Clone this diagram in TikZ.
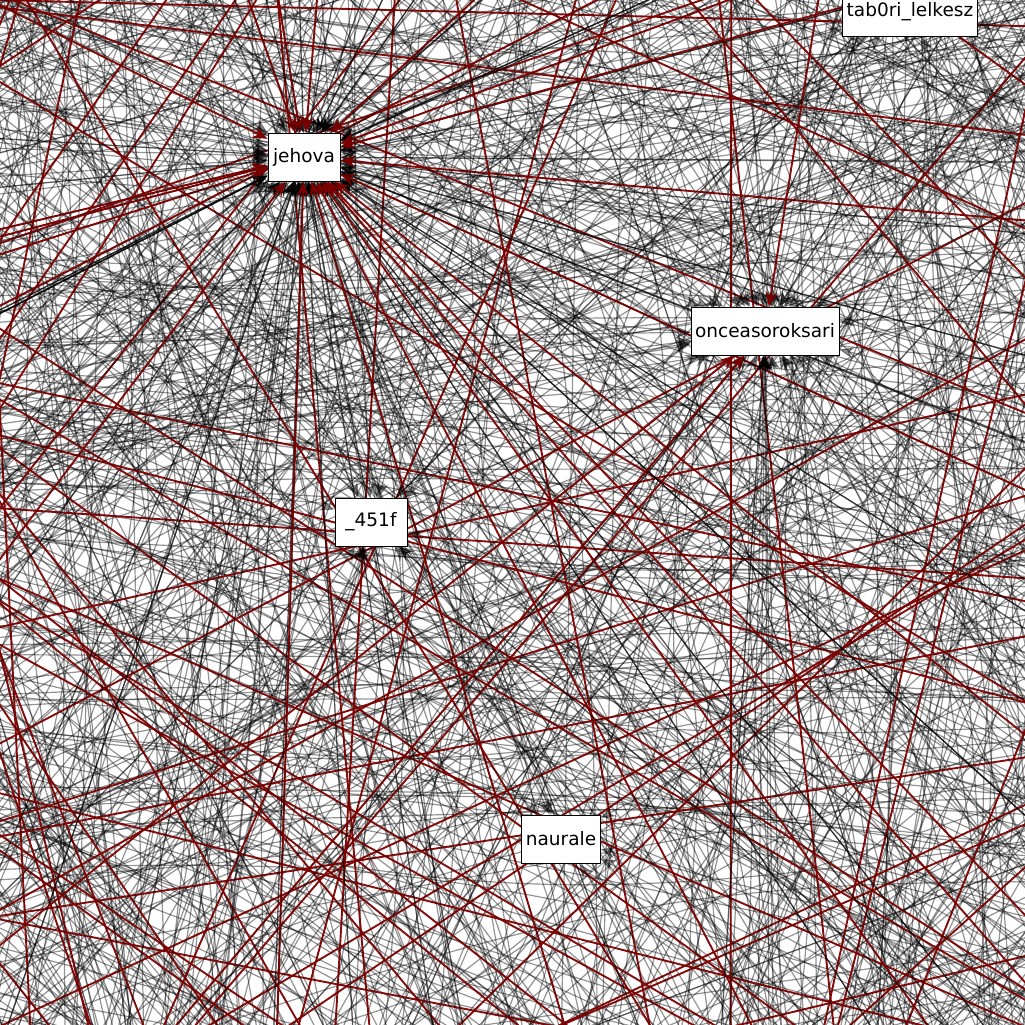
\documentclass[tikz,border=0pt]{standalone}
\usepackage{fontspec}
\setmainfont{DejaVu Sans}
\usetikzlibrary{arrows.meta}
\pgfdeclarelayer{edges}
\pgfsetlayers{edges,main}
\definecolor{linkred}{RGB}{122,0,0}
\tikzset{
  user/.style={draw=black, line width=0.08pt, fill=white, font=\fontsize{1.85}{2}\selectfont,
    inner xsep=0.4pt, inner ysep=0.2pt, minimum width=7.2pt, minimum height=4.8pt},
  link/.style={draw=black, opacity=0.42, line width=0.12pt},
  redlink/.style={draw=linkred, line width=0.19pt, opacity=0.95},
  inlink/.style={link, -{Stealth[length=1.5pt,width=1.2pt]}},
  redin/.style={redlink, -{Stealth[length=1.5pt,width=1.2pt]}},
}

\begin{document}
\begin{tikzpicture}[x=10pt,y=-10pt]
  \useasboundingbox (0,0) rectangle (10.25,10.25);
  \clip (0,0) rectangle (10.25,10.25);
  % users
  \node[user] (jehova) at (3.04,1.57) {jehova};
  \node[user] (once) at (7.65,3.31) {onceasoroksari};
  \node[user] (f451) at (3.71,5.22) {\_451f};
  \node[user] (naurale) at (5.61,8.39) {naurale};
  \node[user] (tab0ri) at (9.10,0.12) {tab0ri\_lelkesz};
  % far ends, on a ring round the picture
  \pgfmathsetseed{451}
  \foreach \i in {1,...,170}{
    \pgfmathsetmacro{\ang}{\i*2.1176+rnd*2}
    \pgfmathsetmacro{\rad}{7.6+rnd*2.5}
    \pgfmathsetmacro{\px}{5.125+\rad*cos(\ang)}
    \pgfmathsetmacro{\py}{5.125+\rad*sin(\ang)}
    \expandafter\xdef\csname qx\i\endcsname{\px}
    \expandafter\xdef\csname qy\i\endcsname{\py}
    \coordinate (p\i) at (\px,\py);
  }
  \foreach \i in {1,...,8}{
    \pgfmathsetmacro{\px}{7.0+rnd*1.4}
    \coordinate (s\i) at (\px,11.2);
  }
  \begin{pgfonlayer}{edges}
    % background follows
    \foreach \k in {1,...,880}{
      \pgfmathrandominteger{\ea}{1}{170}
      \pgfmathrandominteger{\ed}{30}{140}
      \pgfmathtruncatemacro{\eb}{mod(\ea+\ed,170)+1}
      \pgfmathrandominteger{\ec}{-12}{12}
      \pgfmathsetmacro{\bnd}{0.01*\ec*(rnd>0.45)}
      \edef\xa{\csname qx\ea\endcsname}\edef\ya{\csname qy\ea\endcsname}
      \edef\xb{\csname qx\eb\endcsname}\edef\yb{\csname qy\eb\endcsname}
      \pgfmathsetmacro{\cx}{0.5*\xa+0.5*\xb-\bnd*(\yb-\ya)}
      \pgfmathsetmacro{\cy}{0.5*\ya+0.5*\yb+\bnd*(\xb-\xa)}
      \draw[link] (p\ea) .. controls (\cx,\cy) .. (p\eb);
    }
    \foreach \k in {1,...,85}{
      \pgfmathrandominteger{\ea}{1}{170}
      \pgfmathrandominteger{\ed}{30}{140}
      \pgfmathtruncatemacro{\eb}{mod(\ea+\ed,170)+1}
      \draw[redlink] (p\ea) -- (p\eb);
    }
    % incoming edges
    \foreach \k in {1,...,150}{
      \pgfmathrandominteger{\ea}{1}{170}
      \draw[inlink] (p\ea) -- (jehova);
    }
    \foreach \k in {1,...,20}{
      \pgfmathrandominteger{\ea}{1}{170}
      \draw[redin] (p\ea) -- (jehova);
    }
    \foreach \k in {1,...,40}{
      \pgfmathrandominteger{\ea}{1}{170}
      \draw[inlink] (p\ea) -- (once);
    }
    \foreach \i in {1,...,8}
      \draw[inlink] (s\i) -- (once);
    \foreach \k in {1,...,3}{
      \pgfmathrandominteger{\ea}{1}{170}
      \draw[redin] (p\ea) -- (once);
    }
    \foreach \k in {1,...,16}{
      \pgfmathrandominteger{\ea}{1}{170}
      \draw[inlink] (p\ea) -- (f451);
    }
    \foreach \k in {1,...,7}{
      \pgfmathrandominteger{\ea}{1}{170}
      \draw[inlink] (p\ea) -- (naurale);
    }
    \foreach \k in {1,...,5}{
      \pgfmathrandominteger{\ea}{1}{170}
      \draw[inlink] (p\ea) -- (tab0ri);
    }
  \end{pgfonlayer}
\end{tikzpicture}
\end{document}
